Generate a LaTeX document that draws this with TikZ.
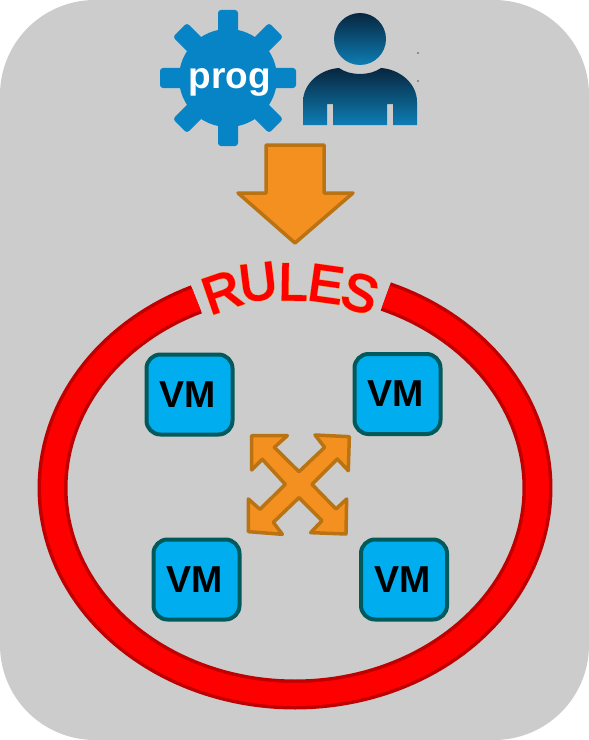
\documentclass[tikz,border=0pt]{standalone}
\usepackage{fontspec}
\setmainfont{Liberation Sans}
\newfontfamily\rulesglow[RawFeature={embolden=5}]{Liberation Sans}
\newfontfamily\rulesfont[RawFeature={embolden=3.2}]{Liberation Sans}
\definecolor{bgc}{HTML}{CCCCCC}
\definecolor{gearc}{HTML}{0784C6}
\definecolor{orangef}{HTML}{F39020}
\definecolor{oranged}{HTML}{B97312}
\definecolor{vmf}{HTML}{00AEEF}
\definecolor{vmd}{HTML}{005A5C}
\definecolor{ringd}{HTML}{C00000}
\definecolor{persont}{HTML}{08263F}
\definecolor{personb}{HTML}{0D7DB3}
\definecolor{glowc}{HTML}{EE9A3A}
\tikzset{
  vmbox/.style={draw=vmd,line width=4bp,fill=vmf,rounded corners=14bp,minimum width=86bp,minimum height=80bp,inner sep=0pt,font=\fontsize{37.5bp}{37.5bp}\selectfont\bfseries,text=black},
  arrowshape/.style={draw=oranged,fill=orangef,line width=3.5bp,line join=round},
  tooth/.style={fill=gearc,rounded corners=3bp},
  ruleglow/.style={font=\fontsize{52bp}{52bp}\rulesglow,text=glowc,inner sep=0pt},
  ruleletter/.style={font=\fontsize{52bp}{52bp}\rulesfont,text=red,inner sep=0pt},
}
\newcommand{\ruleltr}[4]{%
  \node[ruleglow,rotate=#4] at (#2,#3) {#1};
  \node[ruleletter,rotate=#4] (#1letter) at (#2,#3) {#1};
}
\begin{document}
\begin{tikzpicture}[x=1bp,y=-1bp]
\useasboundingbox (0,0) rectangle (589,740);
% panel
\fill[bgc] (0,95) .. controls (0,42.5) and (42.5,0) .. (95,0) -- (494,0) .. controls (546.5,0) and (589,42.5) .. (589,95)
  -- (589,645) .. controls (589,697.5) and (546.5,740) .. (494,740) -- (95,740) .. controls (42.5,740) and (0,697.5) .. (0,645) -- cycle;
% ring
\draw[ringd,line width=30bp,line cap=butt] plot[domain=68:-246,samples=160] ({295+242.5*cos(\x)},{488-206.5*sin(\x)});
\draw[red,line width=23bp,line cap=butt] plot[domain=68:-246,samples=160] ({295+242.5*cos(\x)},{488-206.5*sin(\x)});
% gear
\foreach \a in {0,45,...,315}{
  \fill[tooth,rotate around={\a:(228,78)}] (218,10) rectangle (238,50);
}
\node[circle,fill=gearc,minimum size=98bp,inner sep=0pt] (gear) at (228,78) {};
\node[inner sep=0pt,text=white,font=\fontsize{37bp}{37bp}\selectfont\bfseries] (progtext) at (230,82) {prog};
% person
\shade[top color=persont,bottom color=personb] (360,39) circle[radius=26];
\shade[top color=persont,bottom color=personb]
  (303,125) -- (303,102) .. controls (303,82) and (322,69) .. (339,68) .. controls (350,76) and (370,76) .. (381,68)
  .. controls (398,69) and (417,82) .. (417,102) -- (417,125) -- (393,125) -- (393,104) -- (387,104) -- (387,125)
  -- (333,125) -- (333,104) -- (327,104) -- (327,125) -- cycle;
\fill[black!70] (418,53) circle[radius=.8] (418,81) circle[radius=.8];
% big arrow
\draw[arrowshape] (266,145) -- (324,145) -- (324,193) -- (353,193) -- (295,243) -- (238,193) -- (266,193) -- cycle;
% rules
\ruleltr{R}{222}{292}{19}
\ruleltr{U}{258}{282}{7}
\ruleltr{L}{293}{282}{-1}
\ruleltr{E}{326}{284}{-8}
\ruleltr{S}{360}{293}{-17}
% VMs
\node[vmbox] (vma) at (189.5,394.5) {\kern-3bp VM};
\node[vmbox] (vmb) at (397.5,394) {\kern-3bp VM};
\node[vmbox] (vmc) at (196.5,579.5) {\kern-3bp VM};
\node[vmbox] (vmd) at (404,579.5) {\kern-3bp VM};
% cross arrows
\begin{scope}[shift={(230,420)},x=.3333bp,y=-.3333bp]
\draw[arrowshape] (65,47) -- (172,47) -- (133,82) -- (207,155) -- (284,82) -- (255,45) -- (358,50) -- (355,152)
  -- (322,117) -- (246,193) -- (318,267) -- (350,237) -- (348,342) -- (242,338) -- (276,302) -- (207,233)
  -- (130,307) -- (157,343) -- (55,335) -- (55,237) -- (90,268) -- (166,193) -- (97,118) -- (65,150) -- cycle;
\end{scope}
\end{tikzpicture}
\end{document}
